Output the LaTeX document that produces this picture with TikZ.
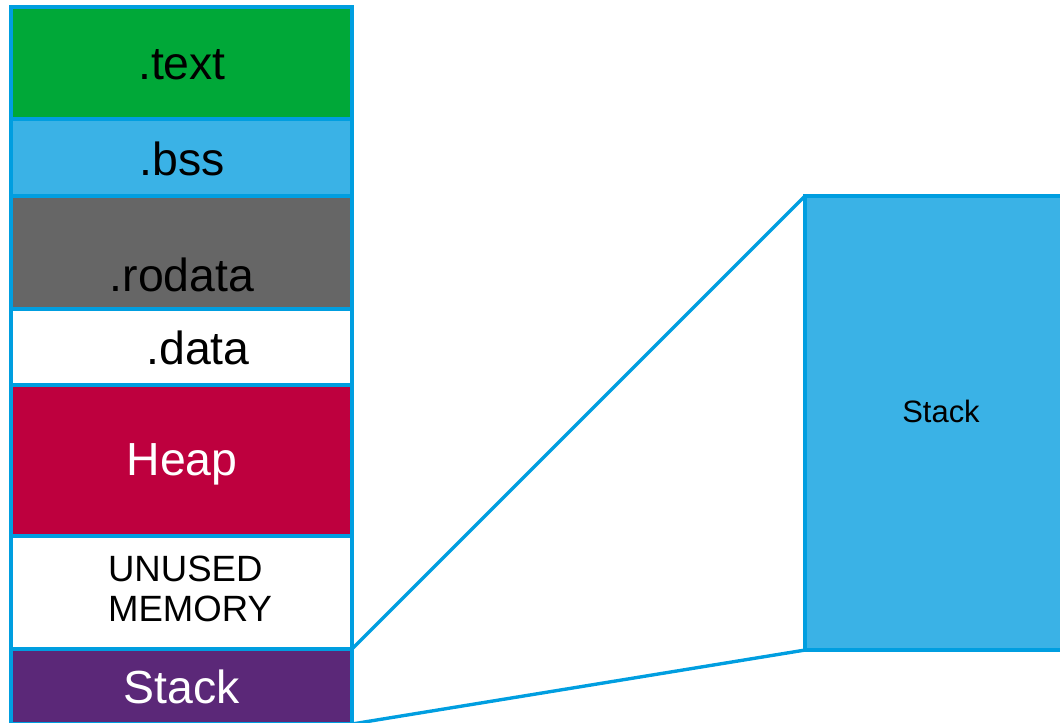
\documentclass[tikz,border=0pt]{standalone}
\usepackage{fontspec}
\setmainfont{Liberation Sans}
\usepackage{tikz}

\definecolor{segline}{HTML}{009EE0}
\definecolor{textgreen}{HTML}{00A838}
\definecolor{bssblue}{HTML}{3AB2E6}
\definecolor{rogray}{HTML}{666666}
\definecolor{heapred}{HTML}{BE003E}
\definecolor{stackpurple}{HTML}{5B2878}

\begin{document}
\begin{tikzpicture}[x=0.025cm, y=-0.025cm,
  seg/.style={draw=segline, line width=2.6pt, rectangle, outer sep=0pt, inner sep=0pt, minimum width=8.525cm},
  big/.style={font=\fontsize{33}{40}\selectfont},
  small/.style={font=\fontsize{26}{28.8}\selectfont},
  wire/.style={draw=segline, line width=2.4pt}]
\useasboundingbox (0, 0) rectangle (1060, 723);

\node [seg, fill=textgreen, minimum height=2.8cm] (text) at (181.5, 63) {};
\node [seg, fill=bssblue, minimum height=1.925cm] (bss) at (181.5, 157.5) {};
\node [seg, fill=rogray, minimum height=2.825cm] (rodata) at (181.5, 252.5) {};
\node [seg, fill=white, minimum height=1.9cm] (data) at (181.5, 347) {};
\node [seg, fill=heapred, minimum height=3.775cm] (heap) at (181.5, 460.5) {};
\node [seg, fill=white, minimum height=2.825cm] (unused) at (181.5, 592.5) {};
\node [seg, fill=stackpurple, minimum height=1.875cm] (stack) at (181.5, 686.5) {};

\node [big] (textlbl) at (182, 65) {.text};
\node [big] (bsslbl) at (182, 159) {.bss};
\node [big] (rodatalbl) at (182, 275) {.rodata};
\node [big] (datalbl) at (198, 348) {.data};
\node [big, white] (heaplbl) at (182, 464) {Heap};
\node [small, align=left] (unusedlbl) at (190, 589) {UNUSED\\MEMORY};
\node [big, white] (stacklbl) at (182, 687) {Stack};

% zoomed stack
\node [seg, fill=bssblue, minimum width=6.75cm, minimum height=11.35cm] (zoom) at (940, 423) {};
\node [font=\fontsize{22}{26}\selectfont] (zoomlbl) at (941, 411) {Stack};

\draw [wire] (unused.south east) -- (zoom.north west);
\draw [wire] (stack.south east) -- (zoom.south west);
\end{tikzpicture}
\end{document}
